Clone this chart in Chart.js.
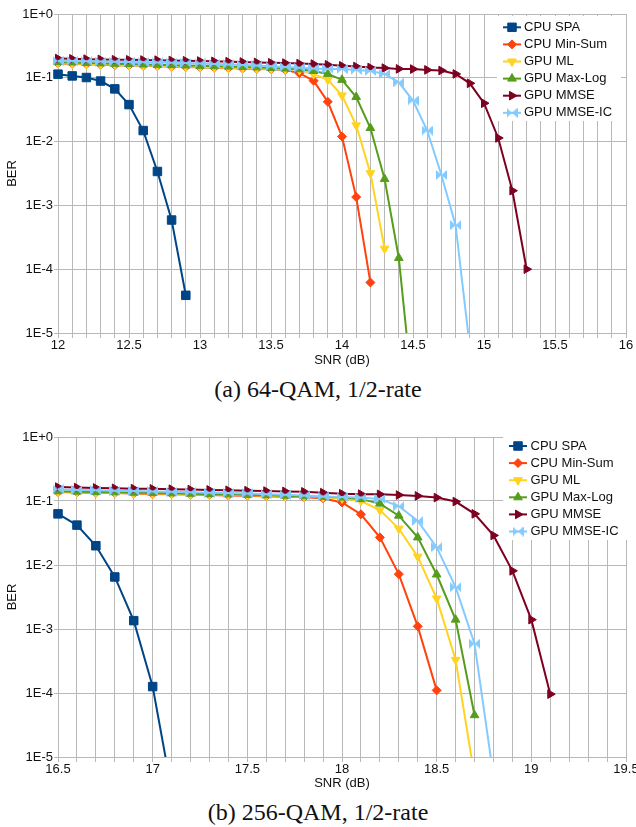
<!DOCTYPE html>
<html>
<head>
<meta charset="utf-8">
<script src="https://cdn.jsdelivr.net/npm/chart.js"></script>
<style>
  html, body { margin: 0; padding: 0; background: #fff; }
  body { width: 636px; height: 827px; overflow: hidden; position: relative; }
  canvas { position: absolute; left: 0; display: block; }
  #chartA { top: 0; }
  #chartB { top: 423px; }
  .caption {
    position: absolute; left: 0; width: 636px; text-align: center;
    font-family: "Liberation Serif", serif; font-size: 24px; line-height: 24px; color: #111;
  }
  #capA { top: 377px; }
  #capB { top: 800px; }
</style>
</head>
<body>
<canvas id="chartA" width="650" height="370"></canvas>
<div class="caption" id="capA">(a) 64-QAM, 1/2-rate</div>
<canvas id="chartB" width="650" height="370"></canvas>
<div class="caption" id="capB">(b) 256-QAM, 1/2-rate</div>

<script>
// Series names and colours
const seriesNames = ['CPU SPA', 'CPU Min-Sum', 'GPU ML', 'GPU Max-Log', 'GPU MMSE', 'GPU MMSE-IC'];
const seriesColors = ['#004586', '#ff420e', '#ffd320', '#579d1c', '#7e0021', '#83caff'];

// Y axis ticks (BER)
const berTicks = [1e-5, 1e-4, 1e-3, 1e-2, 1e-1, 1];
const berLabels = ['1E-5', '1E-4', '1E-3', '1E-2', '1E-1', '1E+0'];

// (a) 64-QAM, SNR points (dB)
const snr64 = [12.0, 12.1, 12.2, 12.3, 12.4, 12.5, 12.6, 12.7, 12.8, 12.9,
  13.0, 13.1, 13.2, 13.3, 13.4, 13.5, 13.6, 13.7, 13.8, 13.9,
  14.0, 14.1, 14.2, 14.3, 14.4, 14.5, 14.6, 14.7, 14.8, 14.9,
  15.0, 15.1, 15.2, 15.3];
const xLabels64 = [12, 12.5, 13, 13.5, 14, 14.5, 15, 15.5, 16];

const spa64 = [0.114, 0.107, 0.101, 0.089, 0.067, 0.038, 0.0149, 0.0034, 0.00059, 0.000039];
const minsum64 = [0.168, 0.166, 0.163, 0.161, 0.158, 0.156, 0.154, 0.152, 0.150, 0.148,
  0.146, 0.144, 0.142, 0.140, 0.138, 0.136, 0.133, 0.118, 0.090, 0.042,
  0.012, 0.00135, 0.000062];
const ml64 = [0.170, 0.168, 0.165, 0.163, 0.161, 0.158, 0.156, 0.154, 0.152, 0.150,
  0.148, 0.146, 0.144, 0.142, 0.140, 0.138, 0.136, 0.132, 0.114, 0.093,
  0.053, 0.018, 0.0032, 0.00021];
const maxlog64 = [0.176, 0.174, 0.171, 0.169, 0.166, 0.164, 0.162, 0.160, 0.158, 0.156,
  0.154, 0.152, 0.150, 0.148, 0.146, 0.143, 0.140, 0.136, 0.128, 0.115,
  0.093, 0.050, 0.0163, 0.0026, 0.00015, 0.000001];
const mmse64 = [0.200, 0.198, 0.196, 0.194, 0.192, 0.191, 0.190, 0.189, 0.187, 0.185,
  0.183, 0.181, 0.179, 0.177, 0.174, 0.172, 0.170, 0.167, 0.164, 0.160,
  0.154, 0.150, 0.145, 0.142, 0.138, 0.137, 0.133, 0.130, 0.115, 0.082,
  0.040, 0.0114, 0.0017, 0.0001];
const mmseic64 = [0.184, 0.183, 0.181, 0.180, 0.178, 0.177, 0.175, 0.174, 0.172, 0.170,
  0.168, 0.165, 0.162, 0.159, 0.156, 0.152, 0.148, 0.144, 0.140, 0.138,
  0.137, 0.133, 0.128, 0.115, 0.085, 0.044, 0.0149, 0.0030, 0.00049, 0.000006];

// (b) 256-QAM, SNR points (dB)
const snr256 = [16.5, 16.6, 16.7, 16.8, 16.9, 17.0, 17.1, 17.2, 17.3, 17.4,
  17.5, 17.6, 17.7, 17.8, 17.9, 18.0, 18.1, 18.2, 18.3, 18.4,
  18.5, 18.6, 18.7, 18.8, 18.9, 19.0, 19.1];
const xLabels256 = [16.5, 17, 17.5, 18, 18.5, 19, 19.5];

const spa256 = [0.063, 0.042, 0.020, 0.0065, 0.00135, 0.000126, 0.000003];
const minsum256 = [0.138, 0.136, 0.134, 0.133, 0.131, 0.129, 0.128, 0.126, 0.124, 0.122,
  0.121, 0.119, 0.117, 0.114, 0.110, 0.095, 0.062, 0.027, 0.0072, 0.0011,
  0.00011];
const ml256 = [0.140, 0.138, 0.136, 0.135, 0.133, 0.131, 0.130, 0.128, 0.126, 0.125,
  0.123, 0.121, 0.119, 0.117, 0.114, 0.110, 0.100, 0.072, 0.037, 0.0135,
  0.003, 0.00033, 0.000005];
const maxlog256 = [0.142, 0.140, 0.138, 0.137, 0.135, 0.133, 0.132, 0.130, 0.128, 0.127,
  0.125, 0.123, 0.121, 0.119, 0.116, 0.113, 0.107, 0.091, 0.059, 0.027,
  0.0071, 0.0014, 0.000045];
const mmse256 = [0.165, 0.162, 0.160, 0.158, 0.156, 0.155, 0.153, 0.151, 0.149, 0.147,
  0.145, 0.143, 0.141, 0.139, 0.135, 0.130, 0.128, 0.127, 0.124, 0.120,
  0.113, 0.098, 0.063, 0.029, 0.0081, 0.0014, 0.000096];
const mmseic256 = [0.152, 0.149, 0.147, 0.145, 0.143, 0.141, 0.139, 0.137, 0.135, 0.133,
  0.131, 0.128, 0.125, 0.122, 0.118, 0.115, 0.113, 0.107, 0.083, 0.049,
  0.019, 0.0045, 0.00059, 0.000005];

Chart.defaults.font.family = '"Liberation Sans", Arial, sans-serif';
Chart.defaults.font.size = 13;
Chart.defaults.color = '#111';

// bowtie marker for MMSE-IC
function makeBowtie(color) {
  const c = document.createElement('canvas');
  c.width = 11; c.height = 10;
  const g = c.getContext('2d');
  g.fillStyle = color;
  g.beginPath(); g.moveTo(0, 0); g.lineTo(5.5, 5); g.lineTo(0, 10); g.closePath(); g.fill();
  g.beginPath(); g.moveTo(11, 0); g.lineTo(5.5, 5); g.lineTo(11, 10); g.closePath(); g.fill();
  return c;
}

const markers = [
  { style: 'rect', rot: 0, r: 6 },
  { style: 'rectRot', rot: 0, r: 4.5 },
  { style: 'triangle', rot: 180, r: 5 },
  { style: 'triangle', rot: 0, r: 5 },
  { style: 'triangle', rot: 90, r: 5 },
  { style: makeBowtie(seriesColors[5]), rot: 0, r: 5 }
];

function makeDatasets(snr, series) {
  return series.map((vals, i) => ({
    label: seriesNames[i],
    data: vals.map((v, k) => ({ x: snr[k], y: v })),
    borderColor: seriesColors[i],
    backgroundColor: seriesColors[i],
    borderWidth: 2,
    pointStyle: markers[i].style,
    pointRotation: markers[i].rot,
    pointRadius: markers[i].r,
    pointHoverRadius: markers[i].r,
    pointBorderWidth: 1,
    tension: 0,
    order: series.length - i,
    clip: { left: 8, top: 8, right: 8, bottom: 0 }
  }));
}

// legend drawn over the plot with a white box
const boxLegend = {
  id: 'boxLegend',
  afterDraw(chart, args, opts) {
    const ctx = chart.ctx;
    ctx.save();
    ctx.fillStyle = '#fff';
    ctx.fillRect(opts.x, opts.y, opts.w, opts.h);
    chart.data.datasets.forEach((ds, i) => {
      const y = opts.firstY + i * opts.step;
      ctx.strokeStyle = ds.borderColor;
      ctx.lineWidth = 2;
      ctx.beginPath();
      ctx.moveTo(opts.lineX0, y);
      ctx.lineTo(opts.lineX1, y);
      ctx.stroke();
      ctx.fillStyle = ds.borderColor;
      ctx.lineWidth = 1;
      Chart.helpers.drawPoint(ctx, {
        pointStyle: ds.pointStyle, rotation: ds.pointRotation, radius: ds.pointRadius, borderWidth: 1
      }, (opts.lineX0 + opts.lineX1) / 2, y);
      ctx.fillStyle = '#111';
      ctx.font = '13px "Liberation Sans", Arial, sans-serif';
      ctx.textAlign = 'left';
      ctx.textBaseline = 'middle';
      ctx.fillText(ds.label, opts.textX, y);
    });
    ctx.restore();
  }
};

function makeChart(id, snr, series, xMin, xMax, xLabels, xHeight, legendOpts) {
  const gridTicks = [];
  for (let k = 0; k <= Math.round((xMax - xMin) * 10); k++) {
    gridTicks.push(Math.round((xMin + k * 0.1) * 10) / 10);
  }
  return new Chart(document.getElementById(id), {
    type: 'line',
    data: { datasets: makeDatasets(snr, series) },
    options: {
      responsive: false,
      animation: false,
      events: [],
      layout: { padding: { top: 14, right: 24, left: 0, bottom: 0 } },
      plugins: {
        legend: { display: false },
        tooltip: { enabled: false },
        boxLegend: legendOpts
      },
      scales: {
        x: {
          type: 'linear',
          min: xMin,
          max: xMax,
          afterBuildTicks: s => { s.ticks = gridTicks.map(v => ({ value: v })); },
          afterFit: s => { s.height = xHeight; },
          ticks: {
            autoSkip: false,
            maxRotation: 0,
            padding: 0,
            callback: v => (xLabels.includes(v) ? String(v) : '')
          },
          grid: { color: '#b8b8b8', tickLength: 5, tickColor: '#b8b8b8' },
          border: { color: '#b8b8b8' },
          title: { display: true, text: 'SNR (dB)', font: { size: 13 }, padding: { top: 0, bottom: 2 } }
        },
        y: {
          type: 'logarithmic',
          min: 1e-5,
          max: 1,
          afterBuildTicks: s => { s.ticks = berTicks.map(v => ({ value: v })); },
          afterFit: s => { s.width = 58; },
          ticks: {
            autoSkip: false,
            padding: 1,
            callback: (v, i) => berLabels[i]
          },
          grid: { color: '#b8b8b8', tickLength: 4, tickColor: '#b8b8b8' },
          border: { color: '#b8b8b8' },
          title: { display: true, text: 'BER', font: { size: 13 }, padding: { top: 5, bottom: 0 } }
        }
      }
    },
    plugins: [boxLegend]
  });
}

makeChart('chartA', snr64, [spa64, minsum64, ml64, maxlog64, mmse64, mmseic64],
  12, 16, xLabels64, 37,
  { x: 497, y: 16, w: 124, h: 105, lineX0: 503, lineX1: 521, textX: 524, firstY: 27.3, step: 17.1 });

makeChart('chartB', snr256, [spa256, minsum256, ml256, maxlog256, mmse256, mmseic256],
  16.5, 19.5, xLabels256, 36,
  { x: 503, y: 11, w: 147, h: 106, lineX0: 509, lineX1: 527, textX: 530.5, firstY: 23, step: 17.1 });
</script>
</body>
</html>
